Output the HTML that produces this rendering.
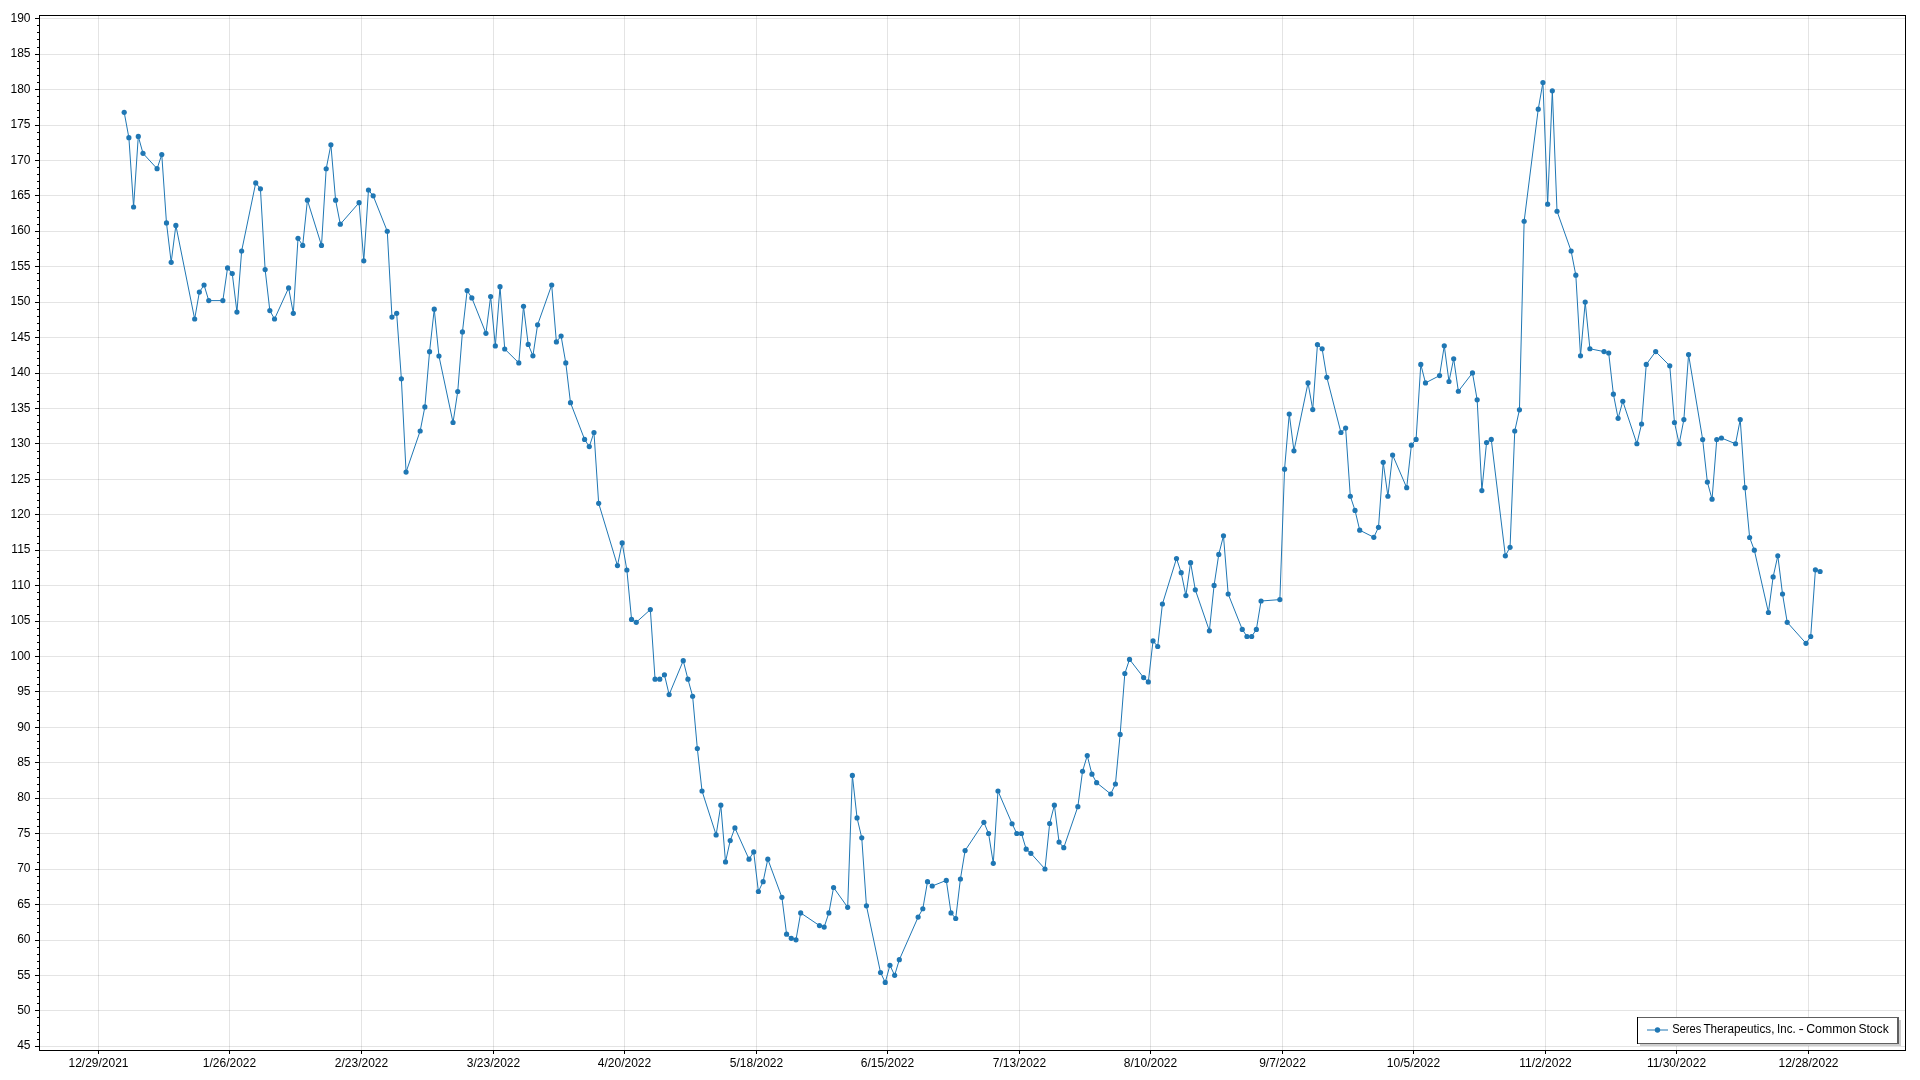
<!DOCTYPE html><html><head><meta charset="utf-8"><style>html,body{margin:0;padding:0;background:#fff;}svg{display:block;will-change:transform;}text{font-family:"Liberation Sans", sans-serif;font-size:12px;fill:#000;}</style></head><body>
<svg width="1920" height="1080" viewBox="0 0 1920 1080">
<rect x="0" y="0" width="1920" height="1080" fill="#fff"/>
<path d="M40 1046.5H1905M40 1010.5H1905M40 975.5H1905M40 940.5H1905M40 904.5H1905M40 869.5H1905M40 833.5H1905M40 798.5H1905M40 762.5H1905M40 727.5H1905M40 691.5H1905M40 656.5H1905M40 621.5H1905M40 585.5H1905M40 550.5H1905M40 514.5H1905M40 479.5H1905M40 443.5H1905M40 408.5H1905M40 373.5H1905M40 337.5H1905M40 302.5H1905M40 266.5H1905M40 231.5H1905M40 195.5H1905M40 160.5H1905M40 125.5H1905M40 89.5H1905M40 54.5H1905M40 18.5H1905" stroke="#000" stroke-opacity="0.106" stroke-width="1" fill="none" shape-rendering="crispEdges"/>
<path d="M98.5 16V1050M229.5 16V1050M361.5 16V1050M493.5 16V1050M624.5 16V1050M756.5 16V1050M887.5 16V1050M1019.5 16V1050M1150.5 16V1050M1282.5 16V1050M1413.5 16V1050M1545.5 16V1050M1676.5 16V1050M1808.5 16V1050" stroke="#000" stroke-opacity="0.106" stroke-width="1" fill="none" shape-rendering="crispEdges"/>
<path d="M124.20 112.30 L128.89 137.70 L133.59 207.00 L138.29 136.40 L142.99 153.30 L157.08 168.70 L161.78 154.60 L166.48 222.90 L171.18 262.30 L175.87 225.40 L194.66 319.00 L199.36 292.10 L204.06 285.00 L208.76 300.60 L222.85 300.60 L227.55 267.90 L232.25 273.50 L236.94 312.10 L241.64 251.00 L255.74 182.90 L260.43 188.75 L265.13 269.60 L269.83 310.60 L274.53 319.00 L288.62 287.90 L293.32 313.30 L298.02 238.30 L302.71 245.40 L307.41 200.20 L321.50 245.40 L326.20 168.75 L330.90 144.80 L335.60 200.20 L340.30 224.20 L359.09 202.70 L363.78 260.80 L368.48 190.00 L373.18 195.80 L387.27 231.25 L391.97 317.10 L396.67 313.30 L401.37 378.75 L406.07 472.10 L420.16 431.00 L424.86 406.90 L429.55 351.70 L434.25 309.20 L438.95 356.00 L453.04 422.50 L457.74 391.50 L462.44 331.90 L467.14 290.60 L471.83 297.90 L485.93 333.30 L490.63 296.50 L495.32 345.90 L500.02 286.70 L504.72 349.00 L518.81 362.90 L523.51 306.25 L528.21 344.40 L532.91 355.80 L537.60 324.80 L551.70 285.00 L556.39 341.90 L561.09 336.00 L565.79 362.90 L570.49 402.70 L584.58 439.40 L589.28 446.60 L593.98 432.50 L598.67 503.30 L617.47 565.60 L622.16 542.90 L626.86 570.00 L631.56 619.40 L636.26 622.30 L650.35 609.60 L655.05 679.20 L659.75 679.20 L664.44 674.80 L669.14 694.60 L683.24 660.70 L687.93 679.20 L692.63 696.25 L697.33 748.50 L702.03 791.00 L716.12 834.90 L720.82 805.20 L725.52 861.90 L730.21 840.60 L734.91 827.90 L749.00 859.20 L753.70 851.90 L758.40 891.50 L763.10 881.70 L767.80 859.20 L781.89 897.30 L786.59 934.20 L791.28 938.30 L795.98 939.80 L800.68 912.90 L819.47 925.60 L824.17 927.10 L828.87 912.90 L833.57 887.50 L847.66 907.30 L852.36 775.40 L857.05 817.90 L861.75 837.80 L866.45 905.80 L880.54 972.50 L885.24 982.40 L889.94 965.30 L894.64 975.30 L899.33 959.70 L918.13 917.10 L922.82 908.75 L927.52 881.70 L932.22 886.00 L946.31 880.40 L951.01 912.90 L955.71 918.50 L960.41 879.00 L965.10 850.60 L983.89 822.30 L988.59 833.50 L993.29 863.30 L997.99 791.00 L1012.08 823.75 L1016.78 833.50 L1021.48 833.50 L1026.18 849.20 L1030.87 853.30 L1044.97 869.00 L1049.66 823.50 L1054.36 805.20 L1059.06 842.10 L1063.76 847.70 L1077.85 806.70 L1082.55 771.25 L1087.25 755.60 L1091.94 774.20 L1096.64 782.70 L1110.74 794.00 L1115.43 784.00 L1120.13 734.40 L1124.83 673.50 L1129.53 659.40 L1143.62 677.60 L1148.32 681.90 L1153.02 640.90 L1157.71 646.50 L1162.41 604.00 L1176.50 558.50 L1181.20 572.70 L1185.90 595.60 L1190.60 562.70 L1195.30 589.80 L1209.39 630.80 L1214.09 585.40 L1218.78 554.40 L1223.48 535.80 L1228.18 594.00 L1242.27 629.40 L1246.97 636.50 L1251.67 636.50 L1256.37 629.40 L1261.07 601.00 L1279.86 599.60 L1284.55 469.20 L1289.25 414.00 L1293.95 450.80 L1308.04 382.90 L1312.74 409.60 L1317.44 344.60 L1322.14 348.75 L1326.83 377.30 L1340.93 432.50 L1345.63 428.10 L1350.32 496.25 L1355.02 510.40 L1359.72 530.20 L1373.81 537.30 L1378.51 527.30 L1383.21 462.30 L1387.91 496.25 L1392.60 455.00 L1406.70 487.70 L1411.39 445.20 L1416.09 439.40 L1420.79 364.40 L1425.49 382.90 L1439.58 375.60 L1444.28 345.80 L1448.98 381.50 L1453.68 358.75 L1458.37 391.25 L1472.47 372.90 L1477.16 399.80 L1481.86 490.60 L1486.56 442.50 L1491.26 439.40 L1505.35 555.80 L1510.05 547.30 L1514.75 431.00 L1519.44 409.80 L1524.14 221.25 L1538.24 109.20 L1542.93 82.50 L1547.63 204.20 L1552.33 90.80 L1557.03 211.25 L1571.12 251.00 L1575.82 275.20 L1580.52 355.80 L1585.21 302.10 L1589.91 348.75 L1604.00 351.60 L1608.70 353.00 L1613.40 394.20 L1618.10 418.30 L1622.80 401.25 L1636.89 443.75 L1641.59 424.00 L1646.28 364.40 L1655.68 351.60 L1669.77 365.80 L1674.47 422.50 L1679.17 443.75 L1683.87 419.60 L1688.57 354.60 L1702.66 439.50 L1707.36 482.10 L1712.05 499.20 L1716.75 439.50 L1721.45 438.00 L1735.54 443.75 L1740.24 419.60 L1744.94 487.70 L1749.64 537.50 L1754.33 550.20 L1768.43 612.50 L1773.13 576.90 L1777.82 555.80 L1782.52 594.00 L1787.22 622.30 L1806.01 643.30 L1810.71 636.50 L1815.41 569.80 L1820.10 571.50" stroke="#1f77b4" stroke-width="1" fill="none" stroke-linejoin="round"/>
<g fill="#1f77b4"><circle cx="124.20" cy="112.30" r="2.6"/><circle cx="128.89" cy="137.70" r="2.6"/><circle cx="133.59" cy="207.00" r="2.6"/><circle cx="138.29" cy="136.40" r="2.6"/><circle cx="142.99" cy="153.30" r="2.6"/><circle cx="157.08" cy="168.70" r="2.6"/><circle cx="161.78" cy="154.60" r="2.6"/><circle cx="166.48" cy="222.90" r="2.6"/><circle cx="171.18" cy="262.30" r="2.6"/><circle cx="175.87" cy="225.40" r="2.6"/><circle cx="194.66" cy="319.00" r="2.6"/><circle cx="199.36" cy="292.10" r="2.6"/><circle cx="204.06" cy="285.00" r="2.6"/><circle cx="208.76" cy="300.60" r="2.6"/><circle cx="222.85" cy="300.60" r="2.6"/><circle cx="227.55" cy="267.90" r="2.6"/><circle cx="232.25" cy="273.50" r="2.6"/><circle cx="236.94" cy="312.10" r="2.6"/><circle cx="241.64" cy="251.00" r="2.6"/><circle cx="255.74" cy="182.90" r="2.6"/><circle cx="260.43" cy="188.75" r="2.6"/><circle cx="265.13" cy="269.60" r="2.6"/><circle cx="269.83" cy="310.60" r="2.6"/><circle cx="274.53" cy="319.00" r="2.6"/><circle cx="288.62" cy="287.90" r="2.6"/><circle cx="293.32" cy="313.30" r="2.6"/><circle cx="298.02" cy="238.30" r="2.6"/><circle cx="302.71" cy="245.40" r="2.6"/><circle cx="307.41" cy="200.20" r="2.6"/><circle cx="321.50" cy="245.40" r="2.6"/><circle cx="326.20" cy="168.75" r="2.6"/><circle cx="330.90" cy="144.80" r="2.6"/><circle cx="335.60" cy="200.20" r="2.6"/><circle cx="340.30" cy="224.20" r="2.6"/><circle cx="359.09" cy="202.70" r="2.6"/><circle cx="363.78" cy="260.80" r="2.6"/><circle cx="368.48" cy="190.00" r="2.6"/><circle cx="373.18" cy="195.80" r="2.6"/><circle cx="387.27" cy="231.25" r="2.6"/><circle cx="391.97" cy="317.10" r="2.6"/><circle cx="396.67" cy="313.30" r="2.6"/><circle cx="401.37" cy="378.75" r="2.6"/><circle cx="406.07" cy="472.10" r="2.6"/><circle cx="420.16" cy="431.00" r="2.6"/><circle cx="424.86" cy="406.90" r="2.6"/><circle cx="429.55" cy="351.70" r="2.6"/><circle cx="434.25" cy="309.20" r="2.6"/><circle cx="438.95" cy="356.00" r="2.6"/><circle cx="453.04" cy="422.50" r="2.6"/><circle cx="457.74" cy="391.50" r="2.6"/><circle cx="462.44" cy="331.90" r="2.6"/><circle cx="467.14" cy="290.60" r="2.6"/><circle cx="471.83" cy="297.90" r="2.6"/><circle cx="485.93" cy="333.30" r="2.6"/><circle cx="490.63" cy="296.50" r="2.6"/><circle cx="495.32" cy="345.90" r="2.6"/><circle cx="500.02" cy="286.70" r="2.6"/><circle cx="504.72" cy="349.00" r="2.6"/><circle cx="518.81" cy="362.90" r="2.6"/><circle cx="523.51" cy="306.25" r="2.6"/><circle cx="528.21" cy="344.40" r="2.6"/><circle cx="532.91" cy="355.80" r="2.6"/><circle cx="537.60" cy="324.80" r="2.6"/><circle cx="551.70" cy="285.00" r="2.6"/><circle cx="556.39" cy="341.90" r="2.6"/><circle cx="561.09" cy="336.00" r="2.6"/><circle cx="565.79" cy="362.90" r="2.6"/><circle cx="570.49" cy="402.70" r="2.6"/><circle cx="584.58" cy="439.40" r="2.6"/><circle cx="589.28" cy="446.60" r="2.6"/><circle cx="593.98" cy="432.50" r="2.6"/><circle cx="598.67" cy="503.30" r="2.6"/><circle cx="617.47" cy="565.60" r="2.6"/><circle cx="622.16" cy="542.90" r="2.6"/><circle cx="626.86" cy="570.00" r="2.6"/><circle cx="631.56" cy="619.40" r="2.6"/><circle cx="636.26" cy="622.30" r="2.6"/><circle cx="650.35" cy="609.60" r="2.6"/><circle cx="655.05" cy="679.20" r="2.6"/><circle cx="659.75" cy="679.20" r="2.6"/><circle cx="664.44" cy="674.80" r="2.6"/><circle cx="669.14" cy="694.60" r="2.6"/><circle cx="683.24" cy="660.70" r="2.6"/><circle cx="687.93" cy="679.20" r="2.6"/><circle cx="692.63" cy="696.25" r="2.6"/><circle cx="697.33" cy="748.50" r="2.6"/><circle cx="702.03" cy="791.00" r="2.6"/><circle cx="716.12" cy="834.90" r="2.6"/><circle cx="720.82" cy="805.20" r="2.6"/><circle cx="725.52" cy="861.90" r="2.6"/><circle cx="730.21" cy="840.60" r="2.6"/><circle cx="734.91" cy="827.90" r="2.6"/><circle cx="749.00" cy="859.20" r="2.6"/><circle cx="753.70" cy="851.90" r="2.6"/><circle cx="758.40" cy="891.50" r="2.6"/><circle cx="763.10" cy="881.70" r="2.6"/><circle cx="767.80" cy="859.20" r="2.6"/><circle cx="781.89" cy="897.30" r="2.6"/><circle cx="786.59" cy="934.20" r="2.6"/><circle cx="791.28" cy="938.30" r="2.6"/><circle cx="795.98" cy="939.80" r="2.6"/><circle cx="800.68" cy="912.90" r="2.6"/><circle cx="819.47" cy="925.60" r="2.6"/><circle cx="824.17" cy="927.10" r="2.6"/><circle cx="828.87" cy="912.90" r="2.6"/><circle cx="833.57" cy="887.50" r="2.6"/><circle cx="847.66" cy="907.30" r="2.6"/><circle cx="852.36" cy="775.40" r="2.6"/><circle cx="857.05" cy="817.90" r="2.6"/><circle cx="861.75" cy="837.80" r="2.6"/><circle cx="866.45" cy="905.80" r="2.6"/><circle cx="880.54" cy="972.50" r="2.6"/><circle cx="885.24" cy="982.40" r="2.6"/><circle cx="889.94" cy="965.30" r="2.6"/><circle cx="894.64" cy="975.30" r="2.6"/><circle cx="899.33" cy="959.70" r="2.6"/><circle cx="918.13" cy="917.10" r="2.6"/><circle cx="922.82" cy="908.75" r="2.6"/><circle cx="927.52" cy="881.70" r="2.6"/><circle cx="932.22" cy="886.00" r="2.6"/><circle cx="946.31" cy="880.40" r="2.6"/><circle cx="951.01" cy="912.90" r="2.6"/><circle cx="955.71" cy="918.50" r="2.6"/><circle cx="960.41" cy="879.00" r="2.6"/><circle cx="965.10" cy="850.60" r="2.6"/><circle cx="983.89" cy="822.30" r="2.6"/><circle cx="988.59" cy="833.50" r="2.6"/><circle cx="993.29" cy="863.30" r="2.6"/><circle cx="997.99" cy="791.00" r="2.6"/><circle cx="1012.08" cy="823.75" r="2.6"/><circle cx="1016.78" cy="833.50" r="2.6"/><circle cx="1021.48" cy="833.50" r="2.6"/><circle cx="1026.18" cy="849.20" r="2.6"/><circle cx="1030.87" cy="853.30" r="2.6"/><circle cx="1044.97" cy="869.00" r="2.6"/><circle cx="1049.66" cy="823.50" r="2.6"/><circle cx="1054.36" cy="805.20" r="2.6"/><circle cx="1059.06" cy="842.10" r="2.6"/><circle cx="1063.76" cy="847.70" r="2.6"/><circle cx="1077.85" cy="806.70" r="2.6"/><circle cx="1082.55" cy="771.25" r="2.6"/><circle cx="1087.25" cy="755.60" r="2.6"/><circle cx="1091.94" cy="774.20" r="2.6"/><circle cx="1096.64" cy="782.70" r="2.6"/><circle cx="1110.74" cy="794.00" r="2.6"/><circle cx="1115.43" cy="784.00" r="2.6"/><circle cx="1120.13" cy="734.40" r="2.6"/><circle cx="1124.83" cy="673.50" r="2.6"/><circle cx="1129.53" cy="659.40" r="2.6"/><circle cx="1143.62" cy="677.60" r="2.6"/><circle cx="1148.32" cy="681.90" r="2.6"/><circle cx="1153.02" cy="640.90" r="2.6"/><circle cx="1157.71" cy="646.50" r="2.6"/><circle cx="1162.41" cy="604.00" r="2.6"/><circle cx="1176.50" cy="558.50" r="2.6"/><circle cx="1181.20" cy="572.70" r="2.6"/><circle cx="1185.90" cy="595.60" r="2.6"/><circle cx="1190.60" cy="562.70" r="2.6"/><circle cx="1195.30" cy="589.80" r="2.6"/><circle cx="1209.39" cy="630.80" r="2.6"/><circle cx="1214.09" cy="585.40" r="2.6"/><circle cx="1218.78" cy="554.40" r="2.6"/><circle cx="1223.48" cy="535.80" r="2.6"/><circle cx="1228.18" cy="594.00" r="2.6"/><circle cx="1242.27" cy="629.40" r="2.6"/><circle cx="1246.97" cy="636.50" r="2.6"/><circle cx="1251.67" cy="636.50" r="2.6"/><circle cx="1256.37" cy="629.40" r="2.6"/><circle cx="1261.07" cy="601.00" r="2.6"/><circle cx="1279.86" cy="599.60" r="2.6"/><circle cx="1284.55" cy="469.20" r="2.6"/><circle cx="1289.25" cy="414.00" r="2.6"/><circle cx="1293.95" cy="450.80" r="2.6"/><circle cx="1308.04" cy="382.90" r="2.6"/><circle cx="1312.74" cy="409.60" r="2.6"/><circle cx="1317.44" cy="344.60" r="2.6"/><circle cx="1322.14" cy="348.75" r="2.6"/><circle cx="1326.83" cy="377.30" r="2.6"/><circle cx="1340.93" cy="432.50" r="2.6"/><circle cx="1345.63" cy="428.10" r="2.6"/><circle cx="1350.32" cy="496.25" r="2.6"/><circle cx="1355.02" cy="510.40" r="2.6"/><circle cx="1359.72" cy="530.20" r="2.6"/><circle cx="1373.81" cy="537.30" r="2.6"/><circle cx="1378.51" cy="527.30" r="2.6"/><circle cx="1383.21" cy="462.30" r="2.6"/><circle cx="1387.91" cy="496.25" r="2.6"/><circle cx="1392.60" cy="455.00" r="2.6"/><circle cx="1406.70" cy="487.70" r="2.6"/><circle cx="1411.39" cy="445.20" r="2.6"/><circle cx="1416.09" cy="439.40" r="2.6"/><circle cx="1420.79" cy="364.40" r="2.6"/><circle cx="1425.49" cy="382.90" r="2.6"/><circle cx="1439.58" cy="375.60" r="2.6"/><circle cx="1444.28" cy="345.80" r="2.6"/><circle cx="1448.98" cy="381.50" r="2.6"/><circle cx="1453.68" cy="358.75" r="2.6"/><circle cx="1458.37" cy="391.25" r="2.6"/><circle cx="1472.47" cy="372.90" r="2.6"/><circle cx="1477.16" cy="399.80" r="2.6"/><circle cx="1481.86" cy="490.60" r="2.6"/><circle cx="1486.56" cy="442.50" r="2.6"/><circle cx="1491.26" cy="439.40" r="2.6"/><circle cx="1505.35" cy="555.80" r="2.6"/><circle cx="1510.05" cy="547.30" r="2.6"/><circle cx="1514.75" cy="431.00" r="2.6"/><circle cx="1519.44" cy="409.80" r="2.6"/><circle cx="1524.14" cy="221.25" r="2.6"/><circle cx="1538.24" cy="109.20" r="2.6"/><circle cx="1542.93" cy="82.50" r="2.6"/><circle cx="1547.63" cy="204.20" r="2.6"/><circle cx="1552.33" cy="90.80" r="2.6"/><circle cx="1557.03" cy="211.25" r="2.6"/><circle cx="1571.12" cy="251.00" r="2.6"/><circle cx="1575.82" cy="275.20" r="2.6"/><circle cx="1580.52" cy="355.80" r="2.6"/><circle cx="1585.21" cy="302.10" r="2.6"/><circle cx="1589.91" cy="348.75" r="2.6"/><circle cx="1604.00" cy="351.60" r="2.6"/><circle cx="1608.70" cy="353.00" r="2.6"/><circle cx="1613.40" cy="394.20" r="2.6"/><circle cx="1618.10" cy="418.30" r="2.6"/><circle cx="1622.80" cy="401.25" r="2.6"/><circle cx="1636.89" cy="443.75" r="2.6"/><circle cx="1641.59" cy="424.00" r="2.6"/><circle cx="1646.28" cy="364.40" r="2.6"/><circle cx="1655.68" cy="351.60" r="2.6"/><circle cx="1669.77" cy="365.80" r="2.6"/><circle cx="1674.47" cy="422.50" r="2.6"/><circle cx="1679.17" cy="443.75" r="2.6"/><circle cx="1683.87" cy="419.60" r="2.6"/><circle cx="1688.57" cy="354.60" r="2.6"/><circle cx="1702.66" cy="439.50" r="2.6"/><circle cx="1707.36" cy="482.10" r="2.6"/><circle cx="1712.05" cy="499.20" r="2.6"/><circle cx="1716.75" cy="439.50" r="2.6"/><circle cx="1721.45" cy="438.00" r="2.6"/><circle cx="1735.54" cy="443.75" r="2.6"/><circle cx="1740.24" cy="419.60" r="2.6"/><circle cx="1744.94" cy="487.70" r="2.6"/><circle cx="1749.64" cy="537.50" r="2.6"/><circle cx="1754.33" cy="550.20" r="2.6"/><circle cx="1768.43" cy="612.50" r="2.6"/><circle cx="1773.13" cy="576.90" r="2.6"/><circle cx="1777.82" cy="555.80" r="2.6"/><circle cx="1782.52" cy="594.00" r="2.6"/><circle cx="1787.22" cy="622.30" r="2.6"/><circle cx="1806.01" cy="643.30" r="2.6"/><circle cx="1810.71" cy="636.50" r="2.6"/><circle cx="1815.41" cy="569.80" r="2.6"/><circle cx="1820.10" cy="571.50" r="2.6"/></g>
<path d="M39.5 15.5H1905.5V1050.5H39.5ZM35 1046.5H39M37 1039.5H39M37 1032.5H39M37 1025.5H39M37 1017.5H39M35 1010.5H39M37 1003.5H39M37 996.5H39M37 989.5H39M37 982.5H39M35 975.5H39M37 968.5H39M37 961.5H39M37 954.5H39M37 947.5H39M35 940.5H39M37 932.5H39M37 925.5H39M37 918.5H39M37 911.5H39M35 904.5H39M37 897.5H39M37 890.5H39M37 883.5H39M37 876.5H39M35 869.5H39M37 862.5H39M37 854.5H39M37 847.5H39M37 840.5H39M35 833.5H39M37 826.5H39M37 819.5H39M37 812.5H39M37 805.5H39M35 798.5H39M37 791.5H39M37 784.5H39M37 777.5H39M37 769.5H39M35 762.5H39M37 755.5H39M37 748.5H39M37 741.5H39M37 734.5H39M35 727.5H39M37 720.5H39M37 713.5H39M37 706.5H39M37 699.5H39M35 691.5H39M37 684.5H39M37 677.5H39M37 670.5H39M37 663.5H39M35 656.5H39M37 649.5H39M37 642.5H39M37 635.5H39M37 628.5H39M35 621.5H39M37 614.5H39M37 606.5H39M37 599.5H39M37 592.5H39M35 585.5H39M37 578.5H39M37 571.5H39M37 564.5H39M37 557.5H39M35 550.5H39M37 543.5H39M37 536.5H39M37 528.5H39M37 521.5H39M35 514.5H39M37 507.5H39M37 500.5H39M37 493.5H39M37 486.5H39M35 479.5H39M37 472.5H39M37 465.5H39M37 458.5H39M37 451.5H39M35 443.5H39M37 436.5H39M37 429.5H39M37 422.5H39M37 415.5H39M35 408.5H39M37 401.5H39M37 394.5H39M37 387.5H39M37 380.5H39M35 373.5H39M37 365.5H39M37 358.5H39M37 351.5H39M37 344.5H39M35 337.5H39M37 330.5H39M37 323.5H39M37 316.5H39M37 309.5H39M35 302.5H39M37 295.5H39M37 288.5H39M37 280.5H39M37 273.5H39M35 266.5H39M37 259.5H39M37 252.5H39M37 245.5H39M37 238.5H39M35 231.5H39M37 224.5H39M37 217.5H39M37 210.5H39M37 202.5H39M35 195.5H39M37 188.5H39M37 181.5H39M37 174.5H39M37 167.5H39M35 160.5H39M37 153.5H39M37 146.5H39M37 139.5H39M37 132.5H39M35 125.5H39M37 117.5H39M37 110.5H39M37 103.5H39M37 96.5H39M35 89.5H39M37 82.5H39M37 75.5H39M37 68.5H39M37 61.5H39M35 54.5H39M37 47.5H39M37 39.5H39M37 32.5H39M37 25.5H39M35 18.5H39M98.5 1051V1054M229.5 1051V1054M361.5 1051V1054M493.5 1051V1054M624.5 1051V1054M756.5 1051V1054M887.5 1051V1054M1019.5 1051V1054M1150.5 1051V1054M1282.5 1051V1054M1413.5 1051V1054M1545.5 1051V1054M1676.5 1051V1054M1808.5 1051V1054" stroke="#000" stroke-width="1" fill="none" shape-rendering="crispEdges"/>
<text x="30.5" y="1049" text-anchor="end">45</text>
<text x="30.5" y="1014" text-anchor="end">50</text>
<text x="30.5" y="979" text-anchor="end">55</text>
<text x="30.5" y="943" text-anchor="end">60</text>
<text x="30.5" y="908" text-anchor="end">65</text>
<text x="30.5" y="872" text-anchor="end">70</text>
<text x="30.5" y="837" text-anchor="end">75</text>
<text x="30.5" y="801" text-anchor="end">80</text>
<text x="30.5" y="766" text-anchor="end">85</text>
<text x="30.5" y="731" text-anchor="end">90</text>
<text x="30.5" y="695" text-anchor="end">95</text>
<text x="30.5" y="660" text-anchor="end">100</text>
<text x="30.5" y="624" text-anchor="end">105</text>
<text x="30.5" y="589" text-anchor="end">110</text>
<text x="30.5" y="553" text-anchor="end">115</text>
<text x="30.5" y="518" text-anchor="end">120</text>
<text x="30.5" y="483" text-anchor="end">125</text>
<text x="30.5" y="447" text-anchor="end">130</text>
<text x="30.5" y="412" text-anchor="end">135</text>
<text x="30.5" y="376" text-anchor="end">140</text>
<text x="30.5" y="341" text-anchor="end">145</text>
<text x="30.5" y="305" text-anchor="end">150</text>
<text x="30.5" y="270" text-anchor="end">155</text>
<text x="30.5" y="234" text-anchor="end">160</text>
<text x="30.5" y="199" text-anchor="end">165</text>
<text x="30.5" y="164" text-anchor="end">170</text>
<text x="30.5" y="128" text-anchor="end">175</text>
<text x="30.5" y="93" text-anchor="end">180</text>
<text x="30.5" y="57" text-anchor="end">185</text>
<text x="30.5" y="22" text-anchor="end">190</text>
<text x="98.5" y="1067" text-anchor="middle">12/29/2021</text>
<text x="229.5" y="1067" text-anchor="middle">1/26/2022</text>
<text x="361.5" y="1067" text-anchor="middle">2/23/2022</text>
<text x="493.5" y="1067" text-anchor="middle">3/23/2022</text>
<text x="624.5" y="1067" text-anchor="middle">4/20/2022</text>
<text x="756.5" y="1067" text-anchor="middle">5/18/2022</text>
<text x="887.5" y="1067" text-anchor="middle">6/15/2022</text>
<text x="1019.5" y="1067" text-anchor="middle">7/13/2022</text>
<text x="1150.5" y="1067" text-anchor="middle">8/10/2022</text>
<text x="1282.5" y="1067" text-anchor="middle">9/7/2022</text>
<text x="1413.5" y="1067" text-anchor="middle">10/5/2022</text>
<text x="1545.5" y="1067" text-anchor="middle">11/2/2022</text>
<text x="1676.5" y="1067" text-anchor="middle">11/30/2022</text>
<text x="1808.5" y="1067" text-anchor="middle">12/28/2022</text>
<rect x="1640" y="1020" width="261" height="26" fill="#cdcdcd"/>
<rect x="1637" y="1017" width="262" height="27" fill="#5f5f5f"/>
<rect x="1638" y="1018" width="259" height="25" fill="#fff"/>
<rect x="1637" y="1017" width="1" height="27" fill="#000"/>
<path d="M1647 1030H1668" stroke="#1f77b4" stroke-width="1"/>
<circle cx="1657.5" cy="1030" r="2.7" fill="#1f77b4"/>
<text x="1672.20" y="1033" textLength="29.10" lengthAdjust="spacingAndGlyphs">Seres</text>
<text x="1703.45" y="1033" textLength="70.95" lengthAdjust="spacingAndGlyphs">Therapeutics,</text>
<text x="1777.10" y="1033" textLength="18.50" lengthAdjust="spacingAndGlyphs">Inc.</text>
<text x="1798.40" y="1033" textLength="5.30" lengthAdjust="spacingAndGlyphs">-</text>
<text x="1806.20" y="1033" textLength="50.00" lengthAdjust="spacingAndGlyphs">Common</text>
<text x="1858.40" y="1033" textLength="30.30" lengthAdjust="spacingAndGlyphs">Stock</text>
</svg></body></html>
